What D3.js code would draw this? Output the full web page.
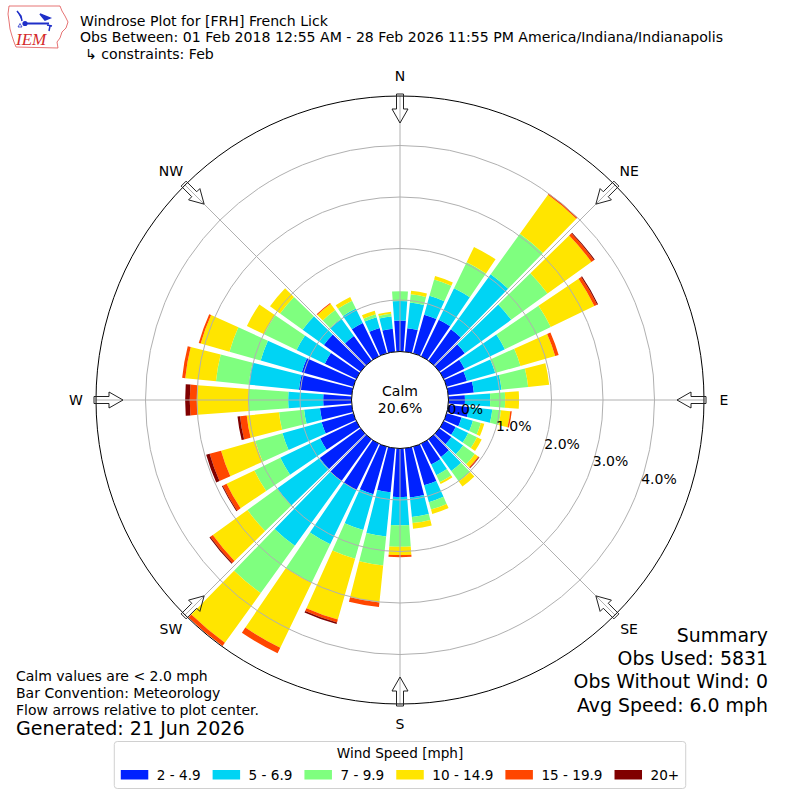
<!DOCTYPE html>
<html>
<head>
<meta charset="utf-8">
<script src="https://cdn.jsdelivr.net/npm/d3@7"></script>
<style>
    body { margin: 0; background: #fff; }
    text { font-family: "DejaVu Sans", sans-serif; }
</style>
</head>
<body>
<svg id="chart" width="800" height="800"></svg>
<script>
// bearing of each bar (degrees, meteorological convention)
const directions = [0, 10, 20, 30, 40, 50, 60, 70, 80, 90, 100, 110, 120, 130, 140, 150, 160, 170,
    180, 190, 200, 210, 220, 230, 240, 250, 260, 270, 280, 290, 300, 310, 320, 330, 340, 350];

const speedBins = ["2 - 4.9", "5 - 6.9", "7 - 9.9", "10 - 14.9", "15 - 19.9", "20+"];
const binColors = ["#0022ff", "#00d4f4", "#7fff7f", "#ffe500", "#ff4600", "#800000"];

// percent of observations per direction, one array per speed bin
const pct2to5 = [0.60, 0.46, 0.78, 0.79, 0.75, 0.61, 0.45, 0.41, 0.50, 0.32, 0.40, 0.30,
    0.26, 0.29, 0.42, 0.45, 0.78, 0.96, 0.94, 0.86, 0.96, 1.00, 1.00, 0.98,
    0.78, 0.64, 0.62, 0.55, 1.03, 1.04, 0.68, 0.88, 0.59, 0.72, 0.51, 0.45];
const pct5to7 = [0.38, 0.50, 0.38, 0.68, 1.32, 1.11, 0.87, 0.57, 0.54, 0.49, 0.46, 0.23,
    0.27, 0.28, 0.34, 0.23, 0.34, 0.38, 0.55, 0.86, 0.72, 1.17, 1.55, 1.02,
    0.86, 0.79, 0.31, 0.68, 0.98, 0.83, 0.61, 0.51, 0.42, 0.31, 0.22, 0.24];
const pct7to10 = [0.19, 0.16, 0.33, 0.56, 0.97, 0.87, 0.99, 0.51, 0.52, 0.29, 0.17, 0.16,
    0.19, 0.28, 0.25, 0.15, 0.15, 0.12, 0.42, 0.57, 0.58, 0.83, 1.13, 0.71,
    0.56, 0.55, 0.49, 0.77, 0.64, 0.63, 0.70, 0.54, 0.20, 0.17, 0.06, 0.05];
const pct10to15 = [0.00, 0.07, 0.07, 0.33, 0.93, 1.05, 0.94, 0.70, 0.41, 0.27, 0.18, 0.07,
    0.10, 0.08, 0.12, 0.04, 0.09, 0.11, 0.16, 0.72, 1.23, 1.40, 1.19, 0.83,
    0.60, 0.69, 0.63, 1.00, 0.60, 0.58, 0.37, 0.24, 0.15, 0.08, 0.07, 0.04];
const pct15to20 = [0, 0, 0, 0, 0.03, 0.06, 0.06, 0.07, 0, 0, 0.03, 0,
    0, 0.02, 0, 0, 0, 0, 0.04, 0.09, 0.06, 0.12, 0.08, 0.06,
    0.08, 0.23, 0.13, 0.14, 0.06, 0.04, 0, 0, 0.02, 0, 0, 0];
const pct20up = [0, 0, 0, 0, 0, 0.02, 0.02, 0, 0, 0, 0, 0,
    0, 0.01, 0, 0, 0, 0, 0, 0, 0.03, 0, 0, 0.02,
    0.02, 0.07, 0.05, 0.09, 0, 0, 0, 0, 0, 0, 0, 0];

const calmPct = 20.6;
const ringTicks = [0, 1, 2, 3, 4];
const compassNames = ["N", "NE", "E", "SE", "S", "SW", "W", "NW"];
const compassBearings = [0, 45, 90, 135, 180, 225, 270, 315];

const titleLines = [
    "Windrose Plot for [FRH] French Lick",
    "Obs Between: 01 Feb 2018 12:55 AM - 28 Feb 2026 11:55 PM America/Indiana/Indianapolis",
    "\u21b3 constraints: Feb"
];
const noteLines = ["Calm values are < 2.0 mph", "Bar Convention: Meteorology", "Flow arrows relative to plot center."];
const generatedText = "Generated: 21 Jun 2026";
const summaryLines = ["Summary", "Obs Used: 5831", "Obs Without Wind: 0", "Avg Speed: 6.0 mph"];

const cx = 400, cy = 400;
const outerR = 304;
const barHalf = 4.2;

let svg = d3.select("#chart");

let rScale = d3.scaleLinear()
    .domain([0, 4])
    .range([48.5, 254.5]);

let rad = deg => deg * Math.PI / 180;
let polar = (bearing, r) => [cx + r * Math.sin(rad(bearing)), cy - r * Math.cos(rad(bearing))];

let keys = ["b0", "b1", "b2", "b3", "b4", "b5"];
let bins = [pct2to5, pct5to7, pct7to10, pct10to15, pct15to20, pct20up];
let rows = directions.map((dir, i) => {
    let row = {dir: dir};
    keys.forEach((k, j) => row[k] = bins[j][i]);
    return row;
});
let series = d3.stack().keys(keys)(rows);

svg.append("clipPath")
    .attr("id", "plotClip")
    .append("circle")
    .attr("r", outerR);

// bars
let arc = d3.arc()
    .innerRadius(d => rScale(d[0]))
    .outerRadius(d => rScale(d[1]))
    .startAngle(d => rad(d.data.dir - barHalf))
    .endAngle(d => rad(d.data.dir + barHalf));

let barG = svg.append("g")
    .attr("transform", "translate(" + cx + "," + cy + ")")
    .attr("clip-path", "url(#plotClip)");

series.forEach((s, i) => {
    barG.selectAll(null)
        .data(s.filter(d => d[1] > d[0]))
        .join("path")
        .attr("d", arc)
        .attr("fill", binColors[i]);
});

// grid
let gridG = svg.append("g");
gridG.selectAll("circle")
    .data(ringTicks.slice(1))
    .join("circle")
    .attr("cx", cx)
    .attr("cy", cy)
    .attr("r", d => rScale(d))
    .attr("fill", "none")
    .attr("stroke", "#b0b0b0")
    .attr("stroke-width", 1);

gridG.selectAll("line")
    .data(compassBearings)
    .join("line")
    .attr("x1", d => polar(d, rScale(0))[0])
    .attr("y1", d => polar(d, rScale(0))[1])
    .attr("x2", d => polar(d, outerR)[0])
    .attr("y2", d => polar(d, outerR)[1])
    .attr("stroke", "#b0b0b0")
    .attr("stroke-width", 1);

// calm circle
svg.append("circle")
    .attr("cx", cx)
    .attr("cy", cy)
    .attr("r", rScale(0))
    .attr("fill", "white")
    .attr("stroke", "black")
    .attr("stroke-width", 1);

svg.append("text")
    .attr("x", cx)
    .attr("y", 396)
    .attr("text-anchor", "middle")
    .style("font-size", "14px")
    .text("Calm");

svg.append("text")
    .attr("x", cx)
    .attr("y", 413)
    .attr("text-anchor", "middle")
    .style("font-size", "14px")
    .text(calmPct.toFixed(1) + "%");

// ring labels
svg.selectAll(".rlabel")
    .data(ringTicks)
    .join("text")
    .attr("class", "rlabel")
    .attr("x", d => polar(110, rScale(d))[0] + 2)
    .attr("y", d => polar(110, rScale(d))[1] - 3)
    .style("font-size", "14px")
    .text(d => d.toFixed(1) + "%");

// outer circle
svg.append("circle")
    .attr("cx", cx)
    .attr("cy", cy)
    .attr("r", outerR)
    .attr("fill", "none")
    .attr("stroke", "black")
    .attr("stroke-width", 1);

// flow arrows
let arrowShape = [[306, -3.5], [291, -3.5], [291, -8], [277, 0], [291, 8], [291, 3.5], [306, 3.5]];
svg.selectAll(".arrow")
    .data(compassBearings)
    .join("path")
    .attr("class", "arrow")
    .attr("d", b => {
        let t = rad(b);
        let pts = arrowShape.map(p => [
            cx + p[0] * Math.sin(t) + p[1] * Math.cos(t),
            cy - p[0] * Math.cos(t) + p[1] * Math.sin(t)
        ]);
        return "M" + pts.map(p => p[0].toFixed(2) + "," + p[1].toFixed(2)).join("L") + "Z";
    })
    .attr("fill", "none")
    .attr("stroke", "#222")
    .attr("stroke-width", 1);

svg.selectAll(".compass")
    .data(compassNames)
    .join("text")
    .attr("class", "compass")
    .attr("x", (d, i) => polar(compassBearings[i], 324)[0])
    .attr("y", (d, i) => polar(compassBearings[i], 324)[1])
    .attr("text-anchor", "middle")
    .attr("dominant-baseline", "central")
    .style("font-size", "14px")
    .text(d => d);

// titles
svg.selectAll(".title")
    .data(titleLines)
    .join("text")
    .attr("class", "title")
    .attr("x", (d, i) => i == 2 ? 85 : 80)
    .attr("y", (d, i) => 25.5 + i * 16.7)
    .style("font-size", "14.1px")
    .text(d => d);

// notes bottom left
svg.selectAll(".note")
    .data(noteLines)
    .join("text")
    .attr("class", "note")
    .attr("x", 16)
    .attr("y", (d, i) => 680.5 + i * 17)
    .style("font-size", "14px")
    .text(d => d);

svg.append("text")
    .attr("x", 16)
    .attr("y", 735)
    .style("font-size", "19.1px")
    .text(generatedText);

// summary bottom right
svg.selectAll(".summary")
    .data(summaryLines)
    .join("text")
    .attr("class", "summary")
    .attr("x", 768)
    .attr("y", (d, i) => 641.7 + i * 23.3)
    .attr("text-anchor", "end")
    .style("font-size", "18.9px")
    .text(d => d);

// legend
let legend = svg.append("g");
let legendBox = legend.append("rect")
    .attr("y", 741.5)
    .attr("height", 47)
    .attr("rx", 3)
    .attr("fill", "white")
    .attr("stroke", "#d0d0d0")
    .attr("stroke-width", 1);

legend.append("text")
    .attr("x", 400)
    .attr("y", 757.5)
    .attr("text-anchor", "middle")
    .style("font-size", "13.6px")
    .text("Wind Speed [mph]");

let labels = legend.selectAll(".leglabel")
    .data(speedBins)
    .join("text")
    .attr("class", "leglabel")
    .attr("y", 779.5)
    .style("font-size", "13.6px")
    .text(d => d);

let widths = [];
labels.each(function () { widths.push(this.getComputedTextLength()); });
let patchW = 27.5, padIn = 8.5, padOut = 12;
let total = d3.sum(widths) + speedBins.length * (patchW + padIn) + (speedBins.length - 1) * padOut;
let x0 = 400 - total / 2;
let xs = [];
widths.forEach(w => { xs.push(x0); x0 += patchW + padIn + w + padOut; });

labels.attr("x", (d, i) => xs[i] + patchW + padIn);
legend.selectAll(".patch")
    .data(speedBins)
    .join("rect")
    .attr("class", "patch")
    .attr("x", (d, i) => xs[i])
    .attr("y", 770)
    .attr("width", patchW)
    .attr("height", 9.5)
    .attr("fill", (d, i) => binColors[i]);

legendBox.attr("x", xs[0] - 6.5).attr("width", total + 13);

// IEM logo
let logo = svg.append("g");
logo.append("path")
    .attr("d", "M9,6 L60,6 L62,11 L65,16 L68,22 L66,28 L62,32 L60,38 L57,42 L58,48 L16,47 L14,42 L12,36 L10,29 L9,21 L8,14 Z")
    .attr("fill", "none")
    .attr("stroke", "#e05050")
    .attr("stroke-width", 0.8);
logo.append("text")
    .attr("x", 16)
    .attr("y", 45)
    .style("font-family", "'Liberation Serif', serif")
    .style("font-style", "italic")
    .style("font-size", "17px")
    .attr("fill", "#d42a2a")
    .text("IEM");
logo.append("line")
    .attr("x1", 25).attr("y1", 23.5).attr("x2", 49).attr("y2", 23.5)
    .attr("stroke", "#1f2fc8").attr("stroke-width", 2);
logo.append("circle")
    .attr("cx", 25).attr("cy", 23.5).attr("r", 2.6)
    .attr("fill", "#1f2fc8");
logo.append("path")
    .attr("d", "M17,11 L21,16 L22,21 M40,14 L50,18 L45,20 Z M47,25 L52,26 M50,26 L49,31")
    .attr("fill", "#1f2fc8")
    .attr("stroke", "#1f2fc8")
    .attr("stroke-width", 1.5);
logo.append("path")
    .attr("d", "M18,27 L20,23.5 L22,27 Z")
    .attr("fill", "none")
    .attr("stroke", "#1f2fc8")
    .attr("stroke-width", 0.8);
</script>
</body>
</html>
